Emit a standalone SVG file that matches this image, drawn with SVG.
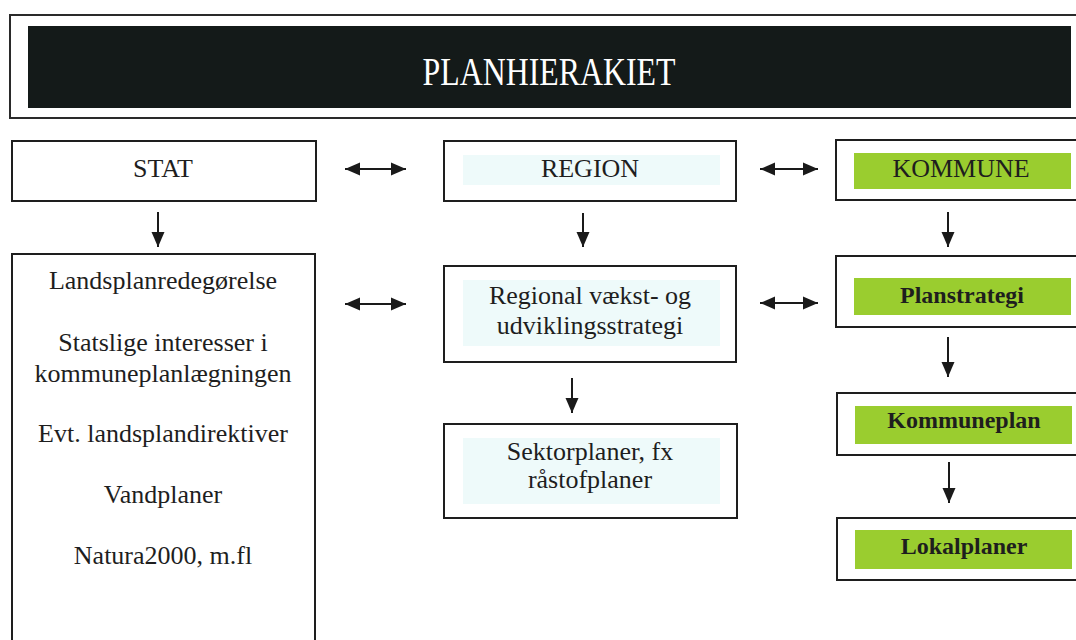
<svg xmlns="http://www.w3.org/2000/svg" width="1076" height="640" viewBox="0 0 1076 640">
<defs>
<marker id="ah" markerUnits="userSpaceOnUse" markerWidth="16" markerHeight="16" viewBox="0 0 16 16" refX="15" refY="8" orient="auto-start-reverse">
<path d="M0,1.5 L15,8 L0,14.5 Z" fill="#1a1a1a"/>
</marker>
</defs>
<style>
.box{fill:#fff;stroke:#1e1e1e;stroke-width:2}
.tint{fill:#eefafa}
.green{fill:#9acd2f}
.t{font-family:"Liberation Serif","Times New Roman",serif;font-size:26px;fill:#1e1e1e;text-anchor:middle}
.b{font-weight:bold;font-size:24px}
.c{stroke:#1a1a1a;stroke-width:2;fill:none;marker-end:url(#ah)}
.d{marker-start:url(#ah)}
</style>
<g id="title">
<rect x="10" y="15" width="1080" height="103" fill="#fff" stroke="#2a2a2a" stroke-width="2"/>
<rect x="28" y="26" width="1043" height="82" fill="#141a19"/>
<text x="549" y="85" font-family="Liberation Serif,serif" font-size="40" fill="#fff" text-anchor="middle" textLength="253" lengthAdjust="spacingAndGlyphs">PLANHIERAKIET</text>
</g>
<g id="stat">
<rect class="box" x="12" y="141" width="304" height="60"/>
<text class="t" x="163" y="177">STAT</text>
</g>
<g id="landsplan">
<rect class="box" x="12" y="254" width="303" height="390"/>
<text class="t" x="163" y="289">Landsplanredegørelse</text>
<text class="t" x="163" y="351">Statslige interesser i</text>
<text class="t" x="163" y="382">kommuneplanlægningen</text>
<text class="t" x="163" y="442">Evt. landsplandirektiver</text>
<text class="t" x="163" y="503">Vandplaner</text>
<text class="t" x="163" y="564">Natura2000, m.fl</text>
</g>
<g id="region">
<rect class="box" x="444" y="141" width="292" height="60"/>
<rect class="tint" x="463" y="155" width="257" height="30"/>
<text class="t" x="590" y="177">REGION</text>
</g>
<g id="regional">
<rect class="box" x="444" y="266" width="292" height="96"/>
<rect class="tint" x="463" y="280" width="257" height="66"/>
<text class="t" x="590" y="304">Regional vækst- og</text>
<text class="t" x="590" y="334">udviklingsstrategi</text>
</g>
<g id="sektor">
<rect class="box" x="444" y="424" width="293" height="94"/>
<rect class="tint" x="463" y="438" width="257" height="66"/>
<text class="t" x="590" y="460">Sektorplaner, fx</text>
<text class="t" x="590" y="488">råstofplaner</text>
</g>
<g id="kommune">
<rect class="box" x="836" y="140" width="260" height="60"/>
<rect class="green" x="854" y="153" width="217" height="36"/>
<text class="t" x="961" y="177">KOMMUNE</text>
</g>
<g id="planstrategi">
<rect class="box" x="836" y="256" width="260" height="71"/>
<rect class="green" x="854" y="278" width="217" height="37"/>
<text class="t b" x="962" y="303">Planstrategi</text>
</g>
<g id="kommuneplan">
<rect class="box" x="837" y="393" width="260" height="62"/>
<rect class="green" x="855" y="406" width="217" height="38"/>
<text class="t b" x="964" y="428">Kommuneplan</text>
</g>
<g id="lokalplaner">
<rect class="box" x="837" y="518" width="260" height="62"/>
<rect class="green" x="855" y="530" width="217" height="39"/>
<text class="t b" x="964" y="554">Lokalplaner</text>
</g>
<g id="connectors">
<line class="c d" x1="345" y1="169" x2="406" y2="169"/>
<line class="c d" x1="345" y1="304" x2="406" y2="304"/>
<line class="c d" x1="760" y1="169" x2="818" y2="169"/>
<line class="c d" x1="760" y1="303" x2="818" y2="303"/>
<line class="c" x1="158" y1="212" x2="158" y2="247"/>
<line class="c" x1="583" y1="213" x2="583" y2="247"/>
<line class="c" x1="572" y1="378" x2="572" y2="413"/>
<line class="c" x1="948" y1="212" x2="948" y2="247"/>
<line class="c" x1="948" y1="337" x2="948" y2="377"/>
<line class="c" x1="949" y1="462" x2="949" y2="503"/>
</g>
</svg>
